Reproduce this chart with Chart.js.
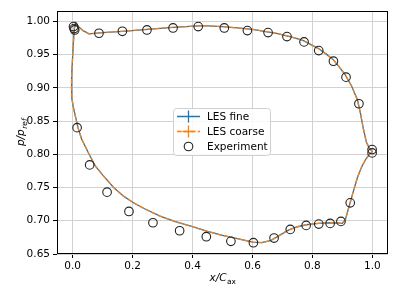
<!DOCTYPE html>
<html>
<head>
<meta charset="utf-8">
<script src="https://cdn.jsdelivr.net/npm/chart.js@4/dist/chart.umd.min.js"></script>
<style>
    html, body { margin: 0; padding: 0; background: #fff; }
    #wrap { width: 399px; height: 299px; }
</style>
</head>
<body>
<div id="wrap"><canvas id="cp-chart" width="399" height="299"></canvas></div>
<script>
// LES 곡선 (x/Cax, 흡입면 -> 앞전 -> 압력면)
const lesX = [1.000, 0.990, 0.980, 0.970, 0.960, 0.950, 0.930, 0.910, 0.890, 0.870,
    0.845, 0.820, 0.795, 0.770, 0.740, 0.715, 0.680, 0.650, 0.600, 0.550,
    0.500, 0.450, 0.420, 0.335, 0.250, 0.166, 0.100, 0.055, 0.035, 0.020,
    0.011, 0.006, 0.003, 0.000, -0.003, -0.004, -0.002, 0.002, 0.007, 0.018,
    0.030, 0.053, 0.075, 0.100, 0.137, 0.170, 0.203, 0.240, 0.292, 0.340,
    0.400, 0.450, 0.500, 0.550, 0.600, 0.630, 0.660, 0.690, 0.720, 0.750,
    0.780, 0.820, 0.860, 0.900, 0.910, 0.920, 0.935, 0.950, 0.965, 0.980,
    0.990, 1.000];
const lesFineY = [0.804, 0.809, 0.818, 0.838, 0.862, 0.882, 0.903, 0.919, 0.931, 0.942,
    0.951, 0.959, 0.965, 0.971, 0.975, 0.978, 0.982, 0.984, 0.988, 0.990,
    0.992, 0.993, 0.993, 0.991, 0.988, 0.985, 0.983, 0.981, 0.986, 0.992,
    0.998, 0.990, 0.970, 0.945, 0.920, 0.900, 0.885, 0.872, 0.862, 0.840,
    0.823, 0.802, 0.783, 0.769, 0.750, 0.737, 0.727, 0.718, 0.707, 0.699,
    0.691, 0.684, 0.678, 0.673, 0.668, 0.667, 0.670, 0.678, 0.686, 0.691,
    0.694, 0.696, 0.697, 0.696, 0.702, 0.718, 0.742, 0.765, 0.782, 0.794,
    0.800, 0.804];
const lesCoarseY = [0.804, 0.809, 0.818, 0.838, 0.862, 0.882, 0.903, 0.919, 0.931, 0.942,
    0.951, 0.959, 0.965, 0.971, 0.975, 0.978, 0.982, 0.984, 0.988, 0.990,
    0.992, 0.993, 0.993, 0.991, 0.988, 0.985, 0.983, 0.981, 0.986, 0.992,
    0.998, 0.990, 0.970, 0.945, 0.920, 0.900, 0.885, 0.872, 0.862, 0.840,
    0.823, 0.802, 0.783, 0.769, 0.750, 0.737, 0.727, 0.718, 0.707, 0.699,
    0.691, 0.684, 0.678, 0.673, 0.668, 0.667, 0.670, 0.678, 0.686, 0.691,
    0.694, 0.696, 0.697, 0.696, 0.702, 0.718, 0.742, 0.765, 0.782, 0.794,
    0.800, 0.804];

// 실험값
const expX = [0.003, 0.005, 0.007, 0.088, 0.166, 0.248, 0.335, 0.419, 0.506, 0.583,
    0.652, 0.715, 0.772, 0.821, 0.870, 0.912, 0.955, 0.999, 0.999,
    0.015, 0.057, 0.115, 0.188, 0.268, 0.357, 0.446, 0.528, 0.603, 0.672,
    0.726, 0.779, 0.821, 0.859, 0.895, 0.926];
const expY = [0.992, 0.989, 0.987, 0.982, 0.985, 0.987, 0.990, 0.992, 0.990, 0.986,
    0.983, 0.977, 0.969, 0.956, 0.940, 0.916, 0.876, 0.807, 0.802,
    0.840, 0.784, 0.743, 0.714, 0.697, 0.685, 0.676, 0.669, 0.667, 0.674,
    0.687, 0.693, 0.695, 0.696, 0.699, 0.727];

const xTicks = [0.0, 0.2, 0.4, 0.6, 0.8, 1.0];
const yTicks = [0.65, 0.70, 0.75, 0.80, 0.85, 0.90, 0.95, 1.00];

const BLUE = '#1f77b4';
const ORANGE = '#ff7f0e';
const FONT = 'DejaVu Sans';

function toPoints(xs, ys) {
    return xs.map((x, i) => ({ x: x, y: ys[i] }));
}

// 테두리(4면)
const framePlugin = {
    id: 'frame',
    afterDatasetsDraw(chart) {
        const a = chart.chartArea;
        const ctx = chart.ctx;
        ctx.save();
        ctx.strokeStyle = '#000';
        ctx.lineWidth = 1;
        ctx.strokeRect(Math.round(a.left) + 0.5, Math.round(a.top) + 0.5,
            Math.round(a.right - a.left) - 1, Math.round(a.bottom - a.top) - 1);
        ctx.restore();
    }
};

// 축 제목 (아래첨자 포함)
const axisTitlePlugin = {
    id: 'axisTitles',
    afterDraw(chart) {
        const a = chart.chartArea;
        const ctx = chart.ctx;
        ctx.save();
        ctx.fillStyle = '#000';
        ctx.textBaseline = 'alphabetic';

        // x/C_ax
        ctx.font = 'italic 10.5px "' + FONT + '"';
        const main = 'x/C';
        const wMain = ctx.measureText(main).width;
        ctx.font = '7.5px "' + FONT + '"';
        const wSub = ctx.measureText('ax').width;
        let x0 = (a.left + a.right) / 2 - (wMain + wSub) / 2;
        const base = 281;
        ctx.font = 'italic 10.5px "' + FONT + '"';
        ctx.fillText(main, x0, base);
        ctx.font = '7.5px "' + FONT + '"';
        ctx.fillText('ax', x0 + wMain + 0.5, base + 2.5);

        // p/p_ref (회전)
        ctx.translate(24, (a.top + a.bottom) / 2);
        ctx.rotate(-Math.PI / 2);
        ctx.font = 'italic 10.5px "' + FONT + '"';
        const m2 = 'p/p';
        const w2 = ctx.measureText(m2).width;
        ctx.font = 'italic 7.5px "' + FONT + '"';
        const w3 = ctx.measureText('ref').width;
        const x1 = -(w2 + w3) / 2;
        ctx.font = 'italic 10.5px "' + FONT + '"';
        ctx.fillText(m2, x1, 0);
        ctx.font = 'italic 7.5px "' + FONT + '"';
        ctx.fillText('ref', x1 + w2 + 0.5, 2.5);
        ctx.restore();
    }
};

// 범례 (그림 안쪽)
const legendPlugin = {
    id: 'innerLegend',
    afterDraw(chart) {
        const ctx = chart.ctx;
        const bx = 173.5, by = 108.5, bw = 97, bh = 47;
        ctx.save();
        ctx.beginPath();
        ctx.roundRect(bx, by, bw, bh, 3);
        ctx.fillStyle = 'rgba(255,255,255,0.85)';
        ctx.fill();
        ctx.strokeStyle = '#d0d0d0';
        ctx.lineWidth = 1;
        ctx.stroke();

        const hx0 = 177, hx1 = 200, hc = 188.5;
        const rows = [116.5, 131.5, 146.5];
        const labels = ['LES fine', 'LES coarse', 'Experiment'];

        // LES fine
        ctx.strokeStyle = BLUE;
        ctx.lineWidth = 1.3;
        ctx.beginPath();
        ctx.moveTo(hx0, rows[0]); ctx.lineTo(hx1, rows[0]);
        ctx.moveTo(hc, rows[0] - 6); ctx.lineTo(hc, rows[0] + 6);
        ctx.moveTo(hc - 6, rows[0]); ctx.lineTo(hc + 6, rows[0]);
        ctx.stroke();

        // LES coarse
        ctx.strokeStyle = ORANGE;
        ctx.setLineDash([4.8, 2.1]);
        ctx.beginPath();
        ctx.moveTo(hx0, rows[1]); ctx.lineTo(hx1, rows[1]);
        ctx.stroke();
        ctx.setLineDash([]);
        ctx.beginPath();
        ctx.moveTo(hc, rows[1] - 6); ctx.lineTo(hc, rows[1] + 6);
        ctx.moveTo(hc - 6, rows[1]); ctx.lineTo(hc + 6, rows[1]);
        ctx.stroke();

        // Experiment
        ctx.strokeStyle = '#222';
        ctx.lineWidth = 1.1;
        ctx.beginPath();
        ctx.arc(hc, rows[2], 4.3, 0, Math.PI * 2);
        ctx.stroke();

        ctx.fillStyle = '#000';
        ctx.font = '10.5px "' + FONT + '"';
        ctx.textBaseline = 'middle';
        labels.forEach((t, i) => ctx.fillText(t, 207, rows[i] + 0.5));
        ctx.restore();
    }
};

const tickFont = { family: FONT, size: 10.5 };

new Chart(document.getElementById('cp-chart'), {
    type: 'scatter',
    data: {
        datasets: [
            {
                label: 'Experiment',
                data: toPoints(expX, expY),
                showLine: false,
                pointStyle: 'circle',
                pointRadius: 4.3,
                pointBorderWidth: 1.1,
                borderColor: '#222',
                backgroundColor: 'rgba(0,0,0,0)',
                order: 0
            },
            {
                label: 'LES coarse',
                data: toPoints(lesX, lesCoarseY),
                showLine: true,
                borderColor: ORANGE,
                borderWidth: 1.3,
                borderDash: [4.8, 2.1],
                pointRadius: 0,
                tension: 0,
                order: 1
            },
            {
                label: 'LES fine',
                data: toPoints(lesX, lesFineY),
                showLine: true,
                borderColor: BLUE,
                borderWidth: 1.3,
                pointRadius: 0,
                tension: 0,
                order: 2
            }
        ]
    },
    options: {
        responsive: false,
        devicePixelRatio: 1,
        animation: false,
        layout: { padding: { top: 11, right: 11, left: 0, bottom: 0 } },
        plugins: {
            legend: { display: false },
            tooltip: { enabled: false }
        },
        scales: {
            x: {
                type: 'linear',
                min: -0.052,
                max: 1.052,
                afterBuildTicks: (scale) => { scale.ticks = xTicks.map(v => ({ value: v })); },
                afterFit: (scale) => { scale.height = 45; },
                ticks: {
                    color: '#000',
                    font: tickFont,
                    padding: 2,
                    maxRotation: 0,
                    callback: (v) => Number(v).toFixed(1)
                },
                grid: {
                    color: '#d2d2d2',
                    lineWidth: 1,
                    tickColor: '#000',
                    tickLength: 4
                },
                border: { display: false }
            },
            y: {
                type: 'linear',
                min: 0.65,
                max: 1.0155,
                afterBuildTicks: (scale) => { scale.ticks = yTicks.map(v => ({ value: v })); },
                afterFit: (scale) => { scale.width = 57; },
                ticks: {
                    color: '#000',
                    font: tickFont,
                    padding: 3,
                    callback: (v) => Number(v).toFixed(2)
                },
                grid: {
                    color: '#d2d2d2',
                    lineWidth: 1,
                    tickColor: '#000',
                    tickLength: 4
                },
                border: { display: false }
            }
        }
    },
    plugins: [framePlugin, axisTitlePlugin, legendPlugin]
});
</script>
</body>
</html>
